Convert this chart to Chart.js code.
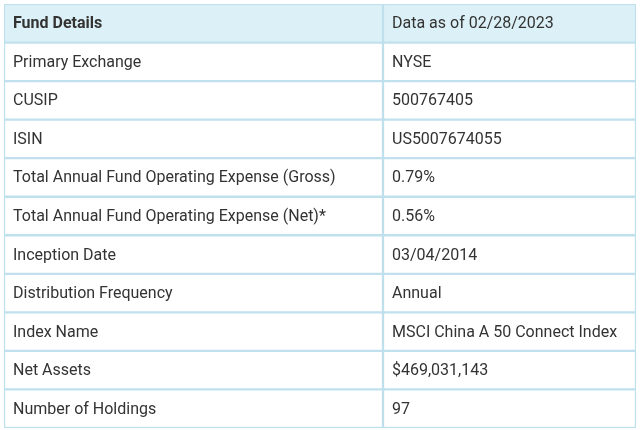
<!DOCTYPE html>
<html>
<head>
<script src="https://cdn.jsdelivr.net/npm/chart.js@4"></script>
<style>
  body { margin: 0; background: #fff; }
  #wrap { width: 640px; height: 430px; }
</style>
</head>
<body>
<div id="wrap"><canvas id="tbl"></canvas></div>
<script>
// Table data
const labels = ['Fund Details', 'Primary Exchange', 'CUSIP', 'ISIN',
  'Total Annual Fund Operating Expense (Gross)', 'Total Annual Fund Operating Expense (Net)*',
  'Inception Date', 'Distribution Frequency', 'Index Name', 'Net Assets', 'Number of Holdings'];
const values = ['Data as of 02/28/2023', 'NYSE', '500767405', 'US5007674055', '0.79%', '0.56%',
  '03/04/2014', 'Annual', 'MSCI China A 50 Connect Index', '$469,031,143', '97'];
const colEdges = [0, 379, 632];

const bg = labels.map((l, i) => i === 0 ? '#dcf1f7' : '#ffffff');

const textPlugin = {
  id: 'cellText',
  afterDatasetsDraw(chart) {
    const { ctx, scales: { x, y } } = chart;
    ctx.save();
    ctx.fillStyle = '#333';
    ctx.textBaseline = 'middle';
    labels.forEach((l, i) => {
      const py = y.getPixelForValue(i) + 1;
      ctx.font = (i === 0 ? 'bold ' : '') + '16px Roboto';
      ctx.fillText(l, x.getPixelForValue(colEdges[0]) + 9, py);
      ctx.font = '16px Roboto';
      ctx.fillText(values[i], x.getPixelForValue(colEdges[1]) + 9, py);
    });
    ctx.restore();
  }
};

new Chart(document.getElementById('tbl'), {
  type: 'bar',
  data: {
    labels: labels,
    datasets: [
      { data: labels.map(() => [colEdges[0], colEdges[1]]), backgroundColor: bg },
      { data: labels.map(() => [colEdges[1], colEdges[2]]), backgroundColor: bg }
    ].map(d => Object.assign(d, {
      borderColor: '#bfe0ec', borderWidth: 1.5, borderSkipped: false,
      barPercentage: 1, categoryPercentage: 1, grouped: false
    }))
  },
  options: {
    indexAxis: 'y',
    responsive: true,
    maintainAspectRatio: false,
    animation: false,
    layout: { padding: { left: 4, right: 4, top: 4, bottom: 2 } },
    plugins: { legend: { display: false }, tooltip: { enabled: false } },
    scales: {
      x: { display: false, min: 0, max: 632 },
      y: { display: false }
    }
  },
  plugins: [textPlugin]
});
</script>
</body>
</html>
